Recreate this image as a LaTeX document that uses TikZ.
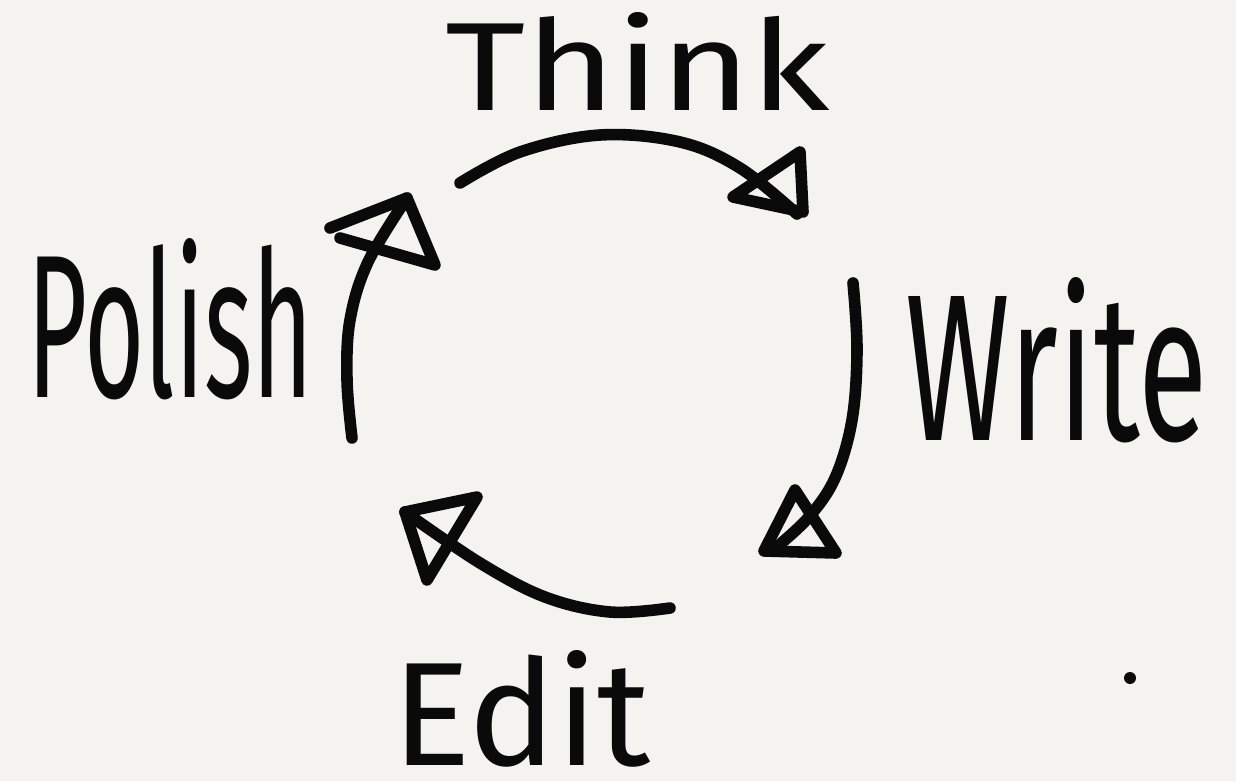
\documentclass[tikz,border=0pt]{standalone}
\usepackage{fontspec}
\setmainfont{Fira Sans}
\definecolor{paper}{HTML}{F4F3EF}
\definecolor{ink}{HTML}{0A0A0A}
\tikzset{
  pen/.style={draw=ink, line width=6.6pt, line cap=round, line join=round},
  word/.style={anchor=north west, inner sep=0pt, text=ink},
}
\begin{document}
\begin{tikzpicture}[x=0.02cm, y=-0.02cm]
\fill[paper] (0,0) rectangle (1236,781);
\useasboundingbox (0,0) rectangle (1236,781);

% words
\node[word] (think)  at (445,12)  {\resizebox{7.7cm}{1.96cm}{Think}};
\node[word] (write)  at (905,277) {\resizebox{6.04cm}{3.26cm}{Write}};
\node[word] (edit)   at (392,650) {\resizebox{5.16cm}{2.3cm}{Edit}};
\node[word] (polish) at (27,238)  {\resizebox{5.72cm}{3.18cm}{Polish}};

% named points
\coordinate (t0) at (460,183);
\coordinate (t1) at (797,214);
\coordinate (w0) at (853,283);
\coordinate (w1) at (773,550);
\coordinate (e0) at (670,608);
\coordinate (e1) at (405,512);
\coordinate (p0) at (352,438);
\coordinate (p1) at (407,198);

% Think -> Write
\draw[pen] plot[smooth, tension=0.6] coordinates {(t0) (520,152) (600,135) (680,142) (740,168) (t1)};
\draw[pen] (733,197) -- (800,152) -- (803,212) -- cycle;

% Write -> Edit
\draw[pen] plot[smooth, tension=0.6] coordinates {(w0) (857,350) (852,420) (835,478) (808,518) (w1)};
\draw[pen] (795,490) -- (764,551) -- (836,553) -- cycle;

% Edit -> Polish
\draw[pen] plot[smooth, tension=0.6] coordinates {(e0) (610,612) (545,597) (480,563) (e1)};
\draw[pen] (e1) -- (477,497) -- (427,580) -- cycle;

% Polish -> Think
\draw[pen] plot[smooth, tension=0.6] coordinates {(p0) (347,380) (350,320) (368,262) (p1)};
\draw[pen] (330,228) -- (p1) -- (435,265) -- (340,238);

% stray dot
\fill[ink] (1130,678) circle (6);
\end{tikzpicture}
\end{document}
